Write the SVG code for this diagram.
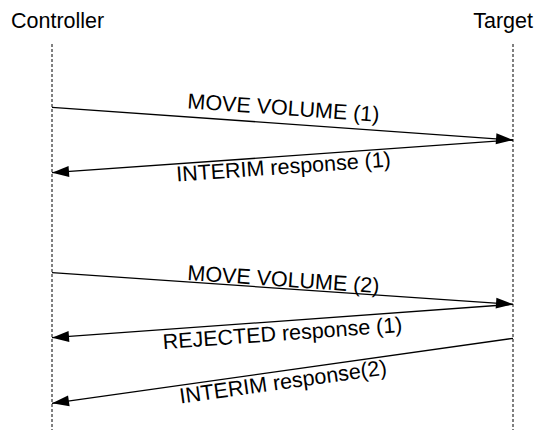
<svg xmlns="http://www.w3.org/2000/svg" width="541" height="430" viewBox="0 0 541 430">
  <style>
    .hdr { font-family: "Liberation Sans", Arial, sans-serif; font-size: 21.5px; fill: #000; }
    .lbl { font-family: "Liberation Sans", Arial, sans-serif; font-size: 21.5px; fill: #000; text-anchor: middle; }
    .life { stroke: #000; stroke-width: 1; stroke-dasharray: 3 2; fill: none; }
    .msg { stroke: #000; stroke-width: 1.3; fill: none; marker-end: url(#head); }
  </style>
  <defs>
    <marker id="head" markerUnits="userSpaceOnUse" markerWidth="17" markerHeight="11" refX="17" refY="5.5" orient="auto" overflow="visible">
      <path d="M0,0 L17,5.5 L0,11 Z" fill="#000"/>
    </marker>
  </defs>
  <rect width="541" height="430" fill="#fff"/>

  <!-- participants -->
  <g id="controller">
    <text class="hdr" x="11" y="28">Controller</text>
    <line class="life" x1="52" y1="44" x2="52" y2="430"/>
  </g>
  <g id="target">
    <text class="hdr" x="533" y="28" text-anchor="end">Target</text>
    <line class="life" x1="513" y1="44" x2="513" y2="430"/>
  </g>

  <!-- messages -->
  <g id="connectors">
    <line class="msg" x1="52" y1="107.3" x2="513" y2="140"/>
    <line class="msg" x1="513" y1="140" x2="52" y2="172.7"/>
    <line class="msg" x1="52" y1="272.7" x2="513" y2="304.3"/>
    <line class="msg" x1="513" y1="304.3" x2="52" y2="337.7"/>
    <line class="msg" x1="513" y1="338.3" x2="52" y2="403.3"/>
  </g>

  <!-- message labels, tilted along their arrows -->
  <g id="labels">
    <text class="lbl" transform="translate(283,115) rotate(4.06)">MOVE VOLUME (1)</text>
    <text class="lbl" transform="translate(284,174) rotate(-4.06)">INTERIM response (1)</text>
    <text class="lbl" transform="translate(283,286.6) rotate(3.92)">MOVE VOLUME (2)</text>
    <text class="lbl" transform="translate(283,340.5) rotate(-4.14)">REJECTED response (1)</text>
    <text class="lbl" transform="translate(284,389) rotate(-8.03)">INTERIM response(2)</text>
  </g>
</svg>
